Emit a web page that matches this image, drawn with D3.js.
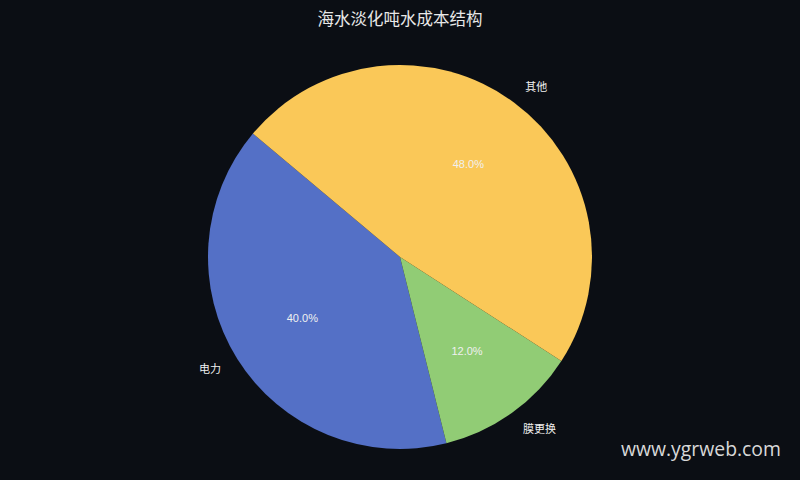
<!DOCTYPE html>
<html>
<head>
<meta charset="utf-8">
<script src="https://cdn.jsdelivr.net/npm/d3@7"></script>
<style>
body{margin:0;background:#0b0e14;}
svg{display:block;}
</style>
</head>
<body>
<svg id="chart" width="800" height="480"></svg>
<script>
// data
var categories=['电力','膜更换','其他'];
var values=[40,12,48];
var colors=['#5470c6','#91cc75','#fac858'];

var W=800,H=480,cx=400,cy=257,r=192;
var svg=d3.select('#chart');
svg.append('rect').attr('width',W).attr('height',H).attr('fill','#0b0e14');

svg.append('text').text('海水淡化吨水成本结构')
  .attr('x',W/2).attr('y',25).attr('text-anchor','middle')
  .attr('fill','#e8e8e8').style('font-family','"Noto Sans CJK SC"').style('font-size','16.5px');

var data=categories.map((c,i)=>({name:c,value:values[i],color:colors[i]}));
var total=d3.sum(values);
// matplotlib style: startangle 140, counterclockwise
var start=(90-140)*Math.PI/180;
var pie=d3.pie().value(d=>d.value).sort(null)
  .startAngle(start).endAngle(start-2*Math.PI);
var arcs=pie(data);
var arc=d3.arc().innerRadius(0).outerRadius(r);

var g=svg.append('g').attr('transform','translate('+cx+','+cy+')');
g.selectAll('path').data(arcs).enter().append('path')
  .attr('d',arc).attr('fill',d=>d.data.color);

function pos(d,k){
  var a=(d.startAngle+d.endAngle)/2;
  return [Math.sin(a)*r*k,-Math.cos(a)*r*k];
}
g.selectAll('text.pct').data(arcs).enter().append('text').attr('class','pct')
  .attr('x',d=>pos(d,0.6)[0]).attr('y',d=>pos(d,0.6)[1]).attr('dy','0.35em')
  .attr('text-anchor','middle').attr('fill','#f0f0f0')
  .style('font-family','"Liberation Sans"').style('font-size','11px')
  .text(d=>(d.data.value/total*100).toFixed(1)+'%');
g.selectAll('text.lbl').data(arcs).enter().append('text').attr('class','lbl')
  .attr('x',d=>pos(d,1.1)[0]).attr('y',d=>pos(d,1.1)[1]).attr('dy','0.35em')
  .attr('text-anchor',d=>pos(d,1)[0]<0?'end':'start').attr('fill','#f0f0f0')
  .style('font-family','"Noto Sans CJK SC"').style('font-size','11px')
  .text(d=>d.data.name);

svg.append('text').text('www.ygrweb.com')
  .attr('x',781).attr('y',456).attr('text-anchor','end')
  .attr('fill','#d8d8d8').style('font-family','"Open Sans"').style('font-size','19.4px');
</script>
</body>
</html>
